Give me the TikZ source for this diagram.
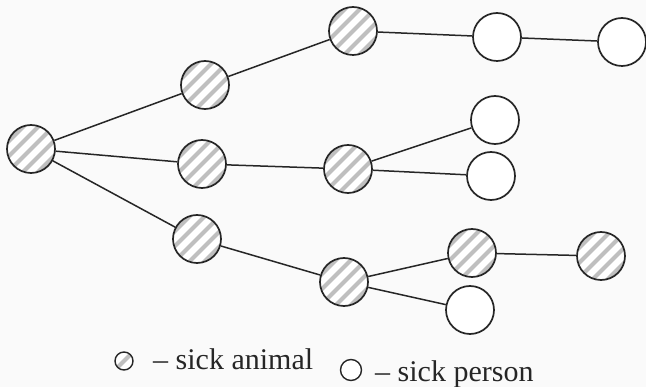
\documentclass[tikz,border=0pt]{standalone}
\usepackage{fontspec}
\setmainfont{Liberation Serif}
\usetikzlibrary{calc}
\tikzset{
  person/.style={circle, draw=black!85, line width=1.7pt, minimum size=48pt, inner sep=0pt, fill=white},
  animal/.style={person, path picture={
      \foreach \k in {-6,...,6}{
        \draw[gray!50, line width=4pt]
          ($(path picture bounding box.center)+(\k*7.5pt,-\k*7.5pt)+(-40pt,-40pt)$) -- ++(80pt,80pt);
      }}},
  smallperson/.style={person, minimum size=21pt, line width=1.4pt},
  smallanimal/.style={animal, minimum size=18pt, line width=1.4pt},
  link/.style={draw=black!85, line width=1.5pt},
  legend/.style={font=\fontsize{30}{34}\selectfont, text=black!85, inner sep=0pt, anchor=base west}
}
\begin{document}
\begin{tikzpicture}[x=1pt,y=-1pt]
\fill[gray!4] (0,0) rectangle (646,387);
\useasboundingbox (0,0) rectangle (646,387);
% tree nodes
\node[animal] (r) at (31,149) {};
\node[animal] (a) at (205,85) {};
\node[animal] (b) at (202,164) {};
\node[animal] (c) at (197,239) {};
\node[animal] (a1) at (353,31) {};
\node[person] (a2) at (497,37) {};
\node[person] (a3) at (622,42) {};
\node[animal] (b1) at (348,169) {};
\node[person] (b2) at (495,120) {};
\node[person] (b3) at (491,176) {};
\node[animal] (c1) at (344,282) {};
\node[animal] (c2) at (472,253) {};
\node[person] (c3) at (470,310) {};
\node[animal] (c4) at (601,256) {};
% connectors
\path[link] (r) -- (a);
\path[link] (r) -- (b);
\path[link] (r) -- (c);
\path[link] (a) -- (a1);
\path[link] (a1) -- (a2);
\path[link] (a2) -- (a3);
\path[link] (b) -- (b1);
\path[link] (b1) -- (b2);
\path[link] (b1) -- (b3);
\path[link] (c) -- (c1);
\path[link] (c1) -- (c2);
\path[link] (c1) -- (c3);
\path[link] (c2) -- (c4);
% legend
\node[smallanimal] (la) at (124,361) {};
\node[legend] (lta) at (153,370) {– sick animal};
\node[smallperson] (lp) at (351,370) {};
\node[legend] (ltp) at (375,382) {– sick person};
\end{tikzpicture}
\end{document}
